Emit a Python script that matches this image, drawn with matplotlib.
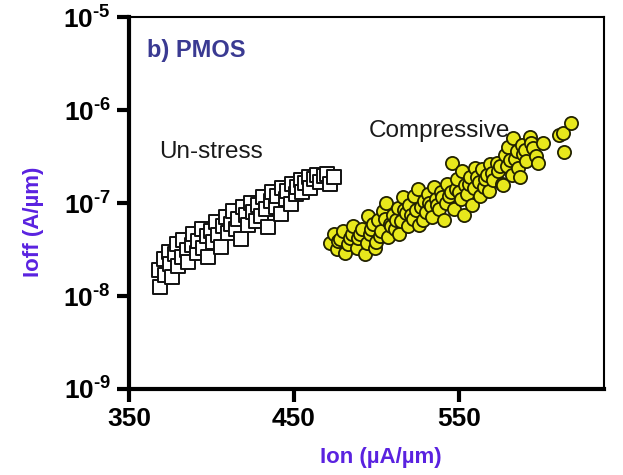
import matplotlib
matplotlib.use("Agg")
import matplotlib.pyplot as plt
import matplotlib.ticker as mticker

plt.rcParams["font.family"] = ["Liberation Sans", "DejaVu Sans"]
plt.rcParams["mathtext.fontset"] = "custom"
plt.rcParams["mathtext.rm"] = "Liberation Sans:bold"
plt.rcParams["mathtext.bf"] = "Liberation Sans:bold"

# Un-stress devices (squares)
unstress_ion = [368, 369, 371, 372, 374, 375, 376, 378, 379, 380, 382, 383, 385, 386,
                388, 389, 391, 392, 394, 395, 397, 398, 400, 401, 403, 404, 406, 407,
                409, 410, 412, 413, 415, 416, 418, 419, 421, 422, 424, 425, 427, 428,
                430, 431, 433, 434, 436, 437, 439, 440, 442, 443, 445, 446, 448, 449,
                451, 452, 454, 455, 457, 459, 460, 462, 464, 466, 468, 470, 472, 474]
unstress_ioff = [1.9e-8, 1.25e-8, 2.5e-8, 1.7e-8, 3.0e-8, 2.2e-8, 1.6e-8, 2.8e-8, 3.6e-8,
                 2.1e-8, 2.6e-8, 4.0e-8, 3.1e-8, 2.3e-8, 3.5e-8, 4.6e-8, 2.9e-8, 3.9e-8,
                 5.3e-8, 3.3e-8, 4.4e-8, 2.6e-8, 5.0e-8, 3.8e-8, 6.2e-8, 4.5e-8, 3.4e-8,
                 5.6e-8, 7.0e-8, 4.8e-8, 6.0e-8, 8.2e-8, 5.2e-8, 6.8e-8, 4.1e-8, 9.0e-8,
                 7.4e-8, 5.8e-8, 1.0e-7, 8.0e-8, 6.4e-8, 9.6e-8, 7.2e-8, 1.15e-7, 8.6e-8,
                 5.5e-8, 1.05e-7, 1.3e-7, 9.0e-8, 1.2e-7, 7.6e-8, 1.45e-7, 1.1e-7, 1.35e-7,
                 9.8e-8, 1.6e-7, 1.25e-7, 1.5e-7, 1.75e-7, 1.3e-7, 1.65e-7, 1.9e-7, 1.45e-7,
                 1.8e-7, 2.0e-7, 1.7e-7, 1.95e-7, 2.05e-7, 1.6e-7, 1.9e-7]

# Compressive-stressed devices (circles)
comp_ion = [472, 474, 476, 477, 478, 480, 481, 483, 484, 485, 486, 488, 489, 490, 491,
            493, 494, 495, 496, 497, 498, 499, 500, 501, 502, 503, 504, 505, 506, 507,
            508, 509, 510, 511, 512, 513, 514, 515, 516, 517, 518, 519, 520, 521, 522,
            523, 524, 525, 526, 527, 528, 529, 530, 531, 532, 533, 534, 535, 536, 537,
            538, 539, 540, 541, 542, 543, 544, 545, 546, 547, 548, 549, 550, 551, 552,
            553, 554, 555, 556, 557, 558, 559, 560, 561, 562, 563, 564, 565, 566, 567,
            568, 569, 570, 571, 573, 574, 575, 576, 577, 578, 579, 580, 581, 582, 583,
            584, 585, 586, 587, 588, 589, 590, 591, 593, 594, 595, 597, 598, 601, 611,
            613, 614, 618]
comp_ioff = [3.7e-8, 4.6e-8, 3.2e-8, 3.9e-8, 4.1e-8, 5.0e-8, 2.9e-8, 3.6e-8, 4.2e-8,
             4.6e-8, 5.6e-8, 3.3e-8, 4.2e-8, 4.6e-8, 5.2e-8, 2.8e-8, 3.7e-8, 7.2e-8,
             4.6e-8, 5.3e-8, 5.9e-8, 3.3e-8, 3.8e-8, 6.6e-8, 4.4e-8, 5.0e-8, 8.2e-8,
             6.8e-8, 1.0e-7, 4.3e-8, 6.0e-8, 5.6e-8, 7.4e-8, 5.2e-8, 6.6e-8, 8.8e-8,
             4.6e-8, 6.4e-8, 1.15e-7, 8.4e-8, 7.8e-8, 5.6e-8, 9.6e-8, 7.4e-8, 6.8e-8,
             1.2e-7, 8.4e-8, 1.4e-7, 5.8e-8, 9.0e-8, 6.6e-8, 1.05e-7, 8.0e-8, 1.25e-7,
             1.0e-7, 9.2e-8, 7.0e-8, 1.5e-7, 1.1e-7, 9.6e-8, 8.6e-8, 1.3e-7, 1.15e-7,
             6.6e-8, 1.0e-7, 1.6e-7, 1.2e-7, 1.3e-7, 2.7e-7, 8.6e-8, 1.4e-7, 1.8e-7,
             1.3e-7, 1.1e-7, 2.2e-7, 7.4e-8, 1.55e-7, 1.25e-7, 1.6e-7, 1.9e-7, 9.6e-8,
             1.45e-7, 2.4e-7, 1.9e-7, 1.7e-7, 1.2e-7, 2.3e-7, 1.5e-7, 1.8e-7, 2.0e-7,
             1.35e-7, 2.6e-7, 2.1e-7, 1.75e-7, 2.7e-7, 2.2e-7, 2.5e-7, 1.6e-7, 1.55e-7,
             3.3e-7, 2.5e-7, 4.0e-7, 2.9e-7, 2.0e-7, 5.0e-7, 3.0e-7, 3.6e-7, 2.4e-7,
             1.9e-7, 4.2e-7, 3.4e-7, 3.7e-7, 2.8e-7, 5.1e-7, 4.4e-7, 3.9e-7, 3.2e-7,
             2.7e-7, 4.4e-7, 5.4e-7, 5.6e-7, 3.5e-7, 7.2e-7]

y_exponents = [9, 8, 7, 6, 5]
x_ticks = [350, 450, 550]

fig = plt.figure(figsize=(6.23, 4.75), dpi=100)
ax = fig.add_axes([129 / 623, 1 - 389 / 475, (604 - 129) / 623, (389 - 17) / 475])

ax.scatter(unstress_ion, unstress_ioff, marker="s", s=95, facecolor="white",
           edgecolor="#111111", linewidth=1.4, zorder=3)
ax.scatter(comp_ion, comp_ioff, marker="o", s=90, facecolor="#e8e81c",
           edgecolor="#222200", linewidth=1.3, zorder=3)

ax.set_yscale("log")
ax.set_xlim(350, 638)
ax.set_ylim(1e-9, 1e-5)
ax.set_xticks(x_ticks)
ax.set_xticklabels([str(v) for v in x_ticks], fontsize=19, fontweight="bold")
# superscript uses a short hyphen (U+2010) like the original, not a long minus
ax.set_yticks([10.0 ** -e for e in y_exponents])
ax.set_yticklabels(["$\\mathbf{10^{\u2010%d}}$" % e for e in y_exponents], fontsize=19)
ax.yaxis.set_minor_locator(mticker.NullLocator())

for side in ["left", "bottom"]:
    ax.spines[side].set_linewidth(3)
for side in ["top", "right"]:
    ax.spines[side].set_linewidth(1.5)
ax.tick_params(axis="both", direction="out", length=9, width=3, pad=4,
               top=False, right=False)

ax.text(360.9, 4.4e-6, "b) PMOS", fontsize=17, fontweight="bold", color="#3a3a92",
        va="center", ha="left")
ax.text(400, 3.5e-7, "Un-stress", fontsize=17.5, color="#1a1a1a", ha="center", va="center")
ax.text(538, 5.9e-7, "Compressive", fontsize=17.5, color="#1a1a1a", ha="center", va="center")

fig.text(381 / 623, 1 - 458 / 475, "Ion (\u00b5A/\u00b5m)", fontsize=16, fontweight="bold",
         color="#5a22e0", ha="center", va="center")
fig.text(33 / 623, 1 - 222 / 475, "Ioff (A/\u00b5m)", fontsize=16, fontweight="bold",
         color="#5a22e0", ha="center", va="center", rotation=90)

fig.savefig("out.png", dpi=100)
